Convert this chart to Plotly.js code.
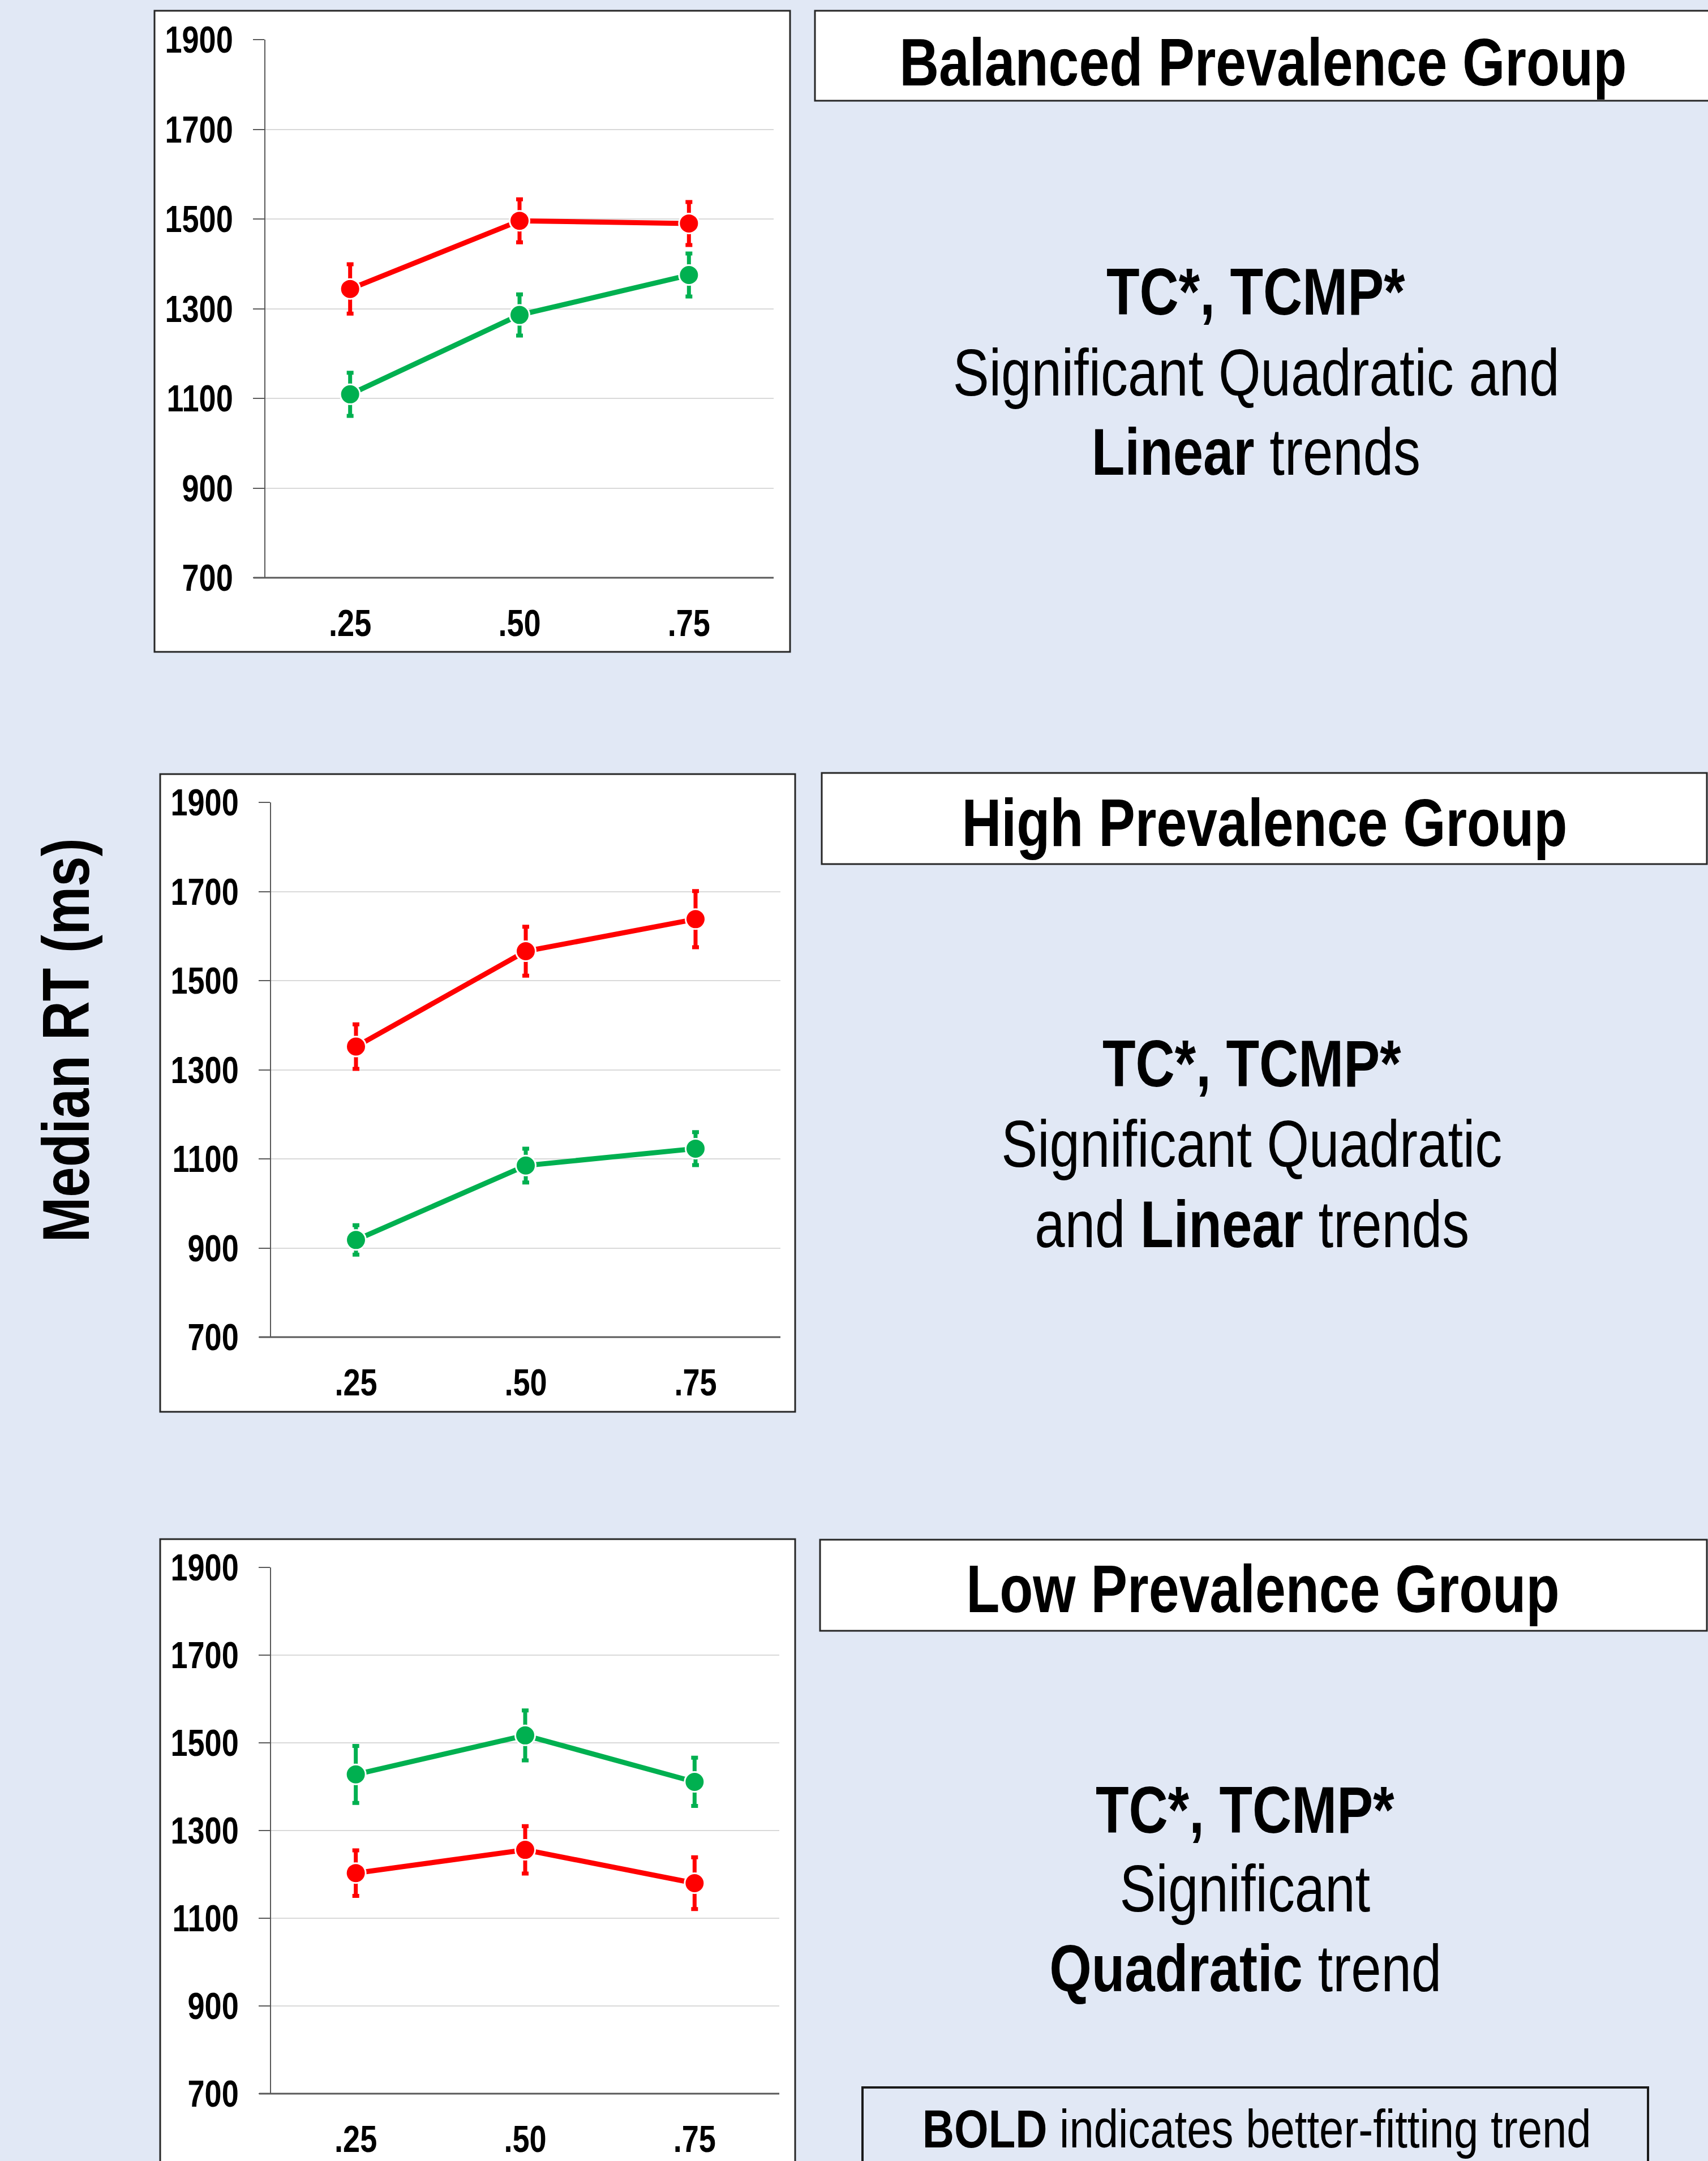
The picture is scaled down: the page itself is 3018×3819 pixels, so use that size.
<!DOCTYPE html>
<html>
<head>
<meta charset="utf-8">
<script src="https://cdn.plot.ly/plotly-3.0.1.min.js"></script>
<style>
  html, body { margin: 0; padding: 0; background: #E1E8F5; }
  #chart { width: 3018px; height: 3819px; }
</style>
</head>
<body>
<div id="chart"></div>
<script>
// ---------- DATA ----------
const categories = [".25", ".50", ".75"];
const yTicks = [700, 900, 1100, 1300, 1500, 1700, 1900];

const balancedRed = [1344, 1496, 1490];
const balancedRedErr = [55, 48, 48];
const balancedGreen = [1109, 1286, 1375];
const balancedGreenErr = [48, 46, 48];

const highRed = [1352, 1566, 1638];
const highRedErr = [50, 55, 63];
const highGreen = [918, 1085, 1123];
const highGreenErr = [33, 38, 37];

const lowGreen = [1428, 1517, 1411];
const lowGreenErr = [65, 57, 55];
const lowRed = [1203, 1256, 1180];
const lowRedErr = [52, 54, 59];

const groupTitles = ["Balanced Prevalence Group", "High Prevalence Group", "Low Prevalence Group"];

// ---------- LAYOUT HELPERS ----------
const W = 3018, H = 3819;
const px = x => x / W;
const py = y => 1 - y / H;
const FONT = "'Liberation Sans', Arial, sans-serif";
const NARROW = 0.82;   // horizontal condensation of all text (Arial Narrow look)
const RED = "#FF0000", GREEN = "#00B050";

function seriesTrace(y, err, color, ax) {
  return {
    type: "scatter", mode: "lines+markers",
    x: categories, y: y,
    xaxis: "x" + ax, yaxis: "y" + ax,
    line: { color: color, width: 9 },
    marker: { color: color, size: 35, line: { color: "#FFFFFF", width: 3 } },
    error_y: { type: "data", array: err, visible: true, color: color, thickness: 7, width: 6 },
    showlegend: false, hoverinfo: "skip"
  };
}

const data = [
  seriesTrace(balancedRed, balancedRedErr, RED, ""),
  seriesTrace(balancedGreen, balancedGreenErr, GREEN, ""),
  seriesTrace(highRed, highRedErr, RED, "2"),
  seriesTrace(highGreen, highGreenErr, GREEN, "2"),
  seriesTrace(lowGreen, lowGreenErr, GREEN, "3"),
  seriesTrace(lowRed, lowRedErr, RED, "3")
];

function xAxis(x0, x1, anchor) {
  return {
    domain: [px(x0), px(x1)], anchor: anchor,
    type: "category", range: [-0.5, 2.5],
    showgrid: false, zeroline: false, showline: false, ticks: "",
    tickfont: { family: FONT, size: 66, color: "#000000", weight: "bold" },
    ticklabelstandoff: 36, fixedrange: true
  };
}
function yAxis(yTop, yBot, anchor) {
  return {
    domain: [py(yBot), py(yTop)], anchor: anchor,
    range: [700, 1900], tickvals: yTicks, ticktext: yTicks.map(String),
    showgrid: true, gridcolor: "#D9D9D9", gridwidth: 2,
    zeroline: false, showline: true, linecolor: "#595959", linewidth: 2,
    ticks: "outside", ticklen: 20, tickwidth: 2, tickcolor: "#595959",
    tickfont: { family: FONT, size: 66, color: "#000000", weight: "bold" },
    ticklabelstandoff: 22, fixedrange: true
  };
}

const layout = {
  width: W, height: H,
  margin: { l: 0, r: 0, t: 0, b: 0, pad: 0 },
  paper_bgcolor: "#E1E8F5",
  plot_bgcolor: "rgba(0,0,0,0)",
  showlegend: false,
  xaxis: xAxis(469, 1367, "y"),
  yaxis: yAxis(70, 1021, "x"),
  xaxis2: xAxis(479, 1379, "y2"),
  yaxis2: yAxis(1418, 2363, "x2"),
  xaxis3: xAxis(479, 1377, "y3"),
  yaxis3: yAxis(2770, 3700, "x3"),
  shapes: [],
  annotations: []
};

// chart frames (white boxes)
const frames = [[273, 19, 1396, 1152], [283, 1368, 1405, 2495], [283, 2720, 1405, 3840]];
frames.forEach(f => layout.shapes.push({
  type: "rect", xref: "paper", yref: "paper", layer: "below",
  x0: px(f[0]), x1: px(f[2]), y0: py(f[3]), y1: py(f[1]),
  fillcolor: "#FFFFFF", line: { color: "#262626", width: 3 }
}));
// x-axis baseline from the 700 tick to the plot end
[[448, 1367, 1021], [458, 1379, 2363], [458, 1377, 3700]].forEach(b => layout.shapes.push({
  type: "line", xref: "paper", yref: "paper", layer: "above",
  x0: px(b[0]), x1: px(b[1]), y0: py(b[2]), y1: py(b[2]),
  line: { color: "#595959", width: 3 }
}));

// group title boxes
const titleBoxes = [[1440, 19, 3030, 178], [1452, 1366, 3016, 1527], [1449, 2721, 3016, 2882]];
titleBoxes.forEach(b => layout.shapes.push({
  type: "rect", xref: "paper", yref: "paper", layer: "below",
  x0: px(b[0]), x1: px(b[2]), y0: py(b[3]), y1: py(b[1]),
  fillcolor: "#FFFFFF", line: { color: "#262626", width: 3 }
}));
const titleCenters = [[2231, 110], [2234, 1454], [2231, 2808]];
titleCenters.forEach((c, i) => layout.annotations.push({
  xref: "paper", yref: "paper", x: px(c[0]), y: py(c[1]),
  xanchor: "center", yanchor: "middle", showarrow: false,
  text: "<b>" + groupTitles[i] + "</b>",
  font: { family: FONT, size: 118, color: "#000000" }
}));

// result text blocks
const blocks = [
  { x: 2219, ys: [516, 658, 799], lines: ["<b>TC*, TCMP*</b>", "Significant Quadratic and", "<b>Linear</b> trends"] },
  { x: 2212, ys: [1880, 2022, 2163], lines: ["<b>TC*, TCMP*</b>", "Significant Quadratic", "and <b>Linear</b> trends"] },
  { x: 2200, ys: [3198, 3337, 3478], lines: ["<b>TC*, TCMP*</b>", "Significant", "<b>Quadratic</b> trend"] }
];
blocks.forEach(bl => bl.lines.forEach((t, j) => layout.annotations.push({
  xref: "paper", yref: "paper", x: px(bl.x), y: py(bl.ys[j]),
  xanchor: "center", yanchor: "middle", showarrow: false,
  text: t, font: { family: FONT, size: 117, color: "#000000" }
})));

// legend-note box
layout.shapes.push({
  type: "rect", xref: "paper", yref: "paper", layer: "below",
  x0: px(1524), x1: px(2912), y0: py(3860), y1: py(3689),
  fillcolor: "rgba(0,0,0,0)", line: { color: "#1A1A1A", width: 4 }
});
layout.annotations.push({
  xref: "paper", yref: "paper", x: px(2220), y: py(3762),
  xanchor: "center", yanchor: "middle", showarrow: false,
  text: "<b>BOLD</b> indicates better-fitting trend",
  font: { family: FONT, size: 95, color: "#000000" }
});

// shared y-axis label
layout.annotations.push({
  xref: "paper", yref: "paper", x: px(117), y: py(1839),
  xanchor: "center", yanchor: "middle", showarrow: false, textangle: -90,
  text: "<b>Median RT (ms)</b>",
  font: { family: FONT, size: 117, color: "#000000" }
});

// condense every text horizontally about its own anchor point
function condense() {
  document.querySelectorAll("#chart svg text").forEach(t => {
    if (t.dataset.condensed) return;
    const ax = parseFloat(t.getAttribute("x")) || 0;
    const tr = t.getAttribute("transform") || "";
    t.setAttribute("transform", tr + " translate(" + ax + ",0) scale(" + NARROW + ",1) translate(" + (-ax) + ",0)");
    t.dataset.condensed = "1";
  });
}

Plotly.newPlot("chart", data, layout, { staticPlot: true, displayModeBar: false }).then(condense);
</script>
</body>
</html>
